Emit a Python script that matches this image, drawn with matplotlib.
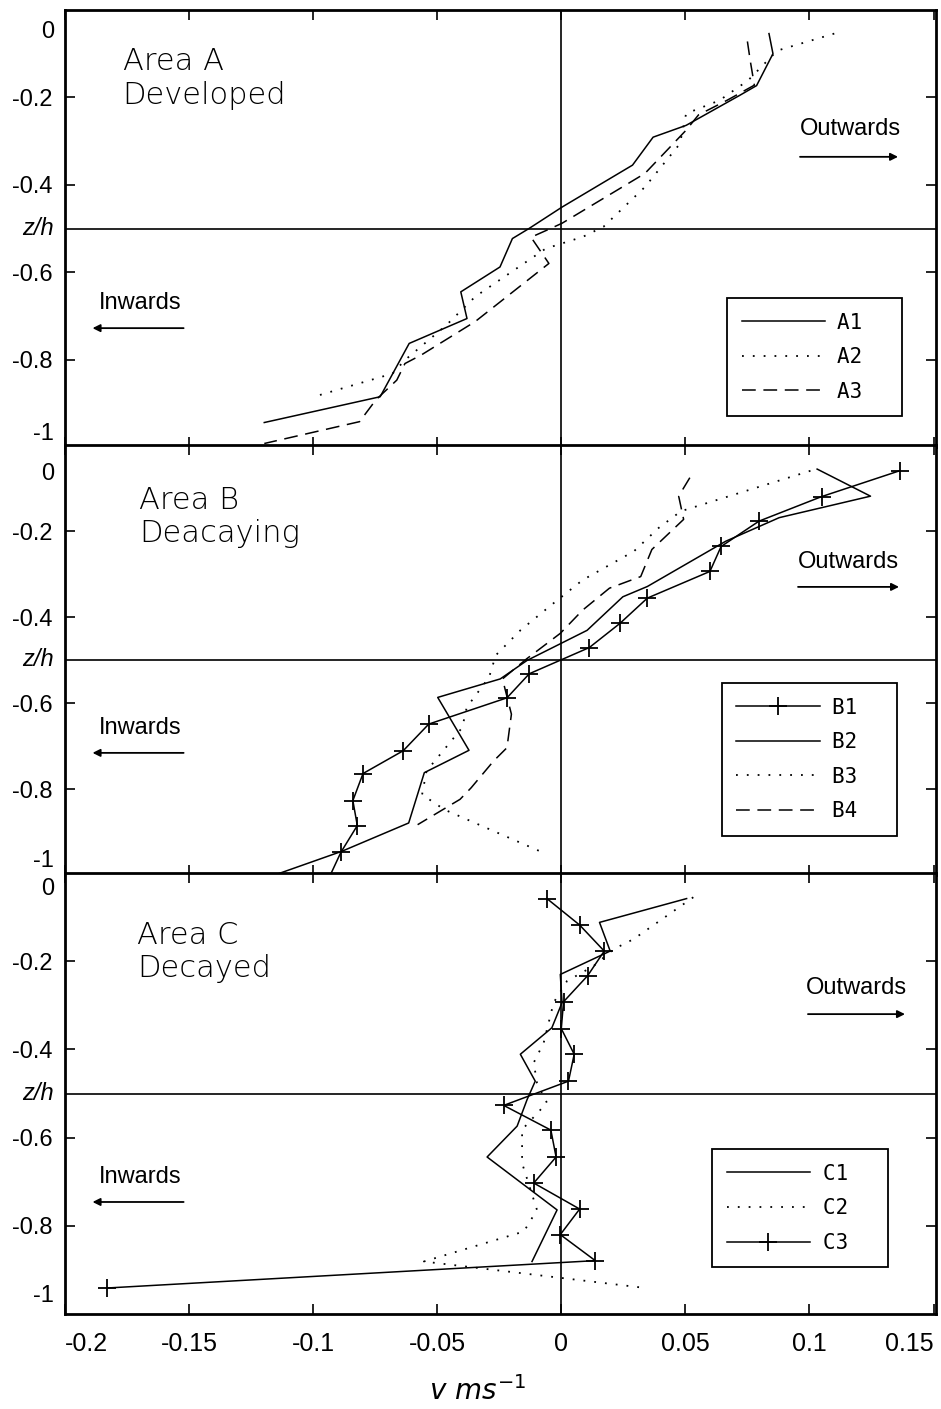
import numpy as np
import matplotlib
matplotlib.use('Agg')
import matplotlib.pyplot as plt

# ---- data: velocity v (m/s) against relative depth z/h ----
a1_z = [-0.054, -0.100, -0.173, -0.195, -0.264, -0.291, -0.355, -0.451, -0.500, -0.523,
        -0.588, -0.645, -0.706, -0.763, -0.885, -0.944]
a1_v = [0.0837, 0.0853, 0.0787, 0.0720, 0.0503, 0.0370, 0.0287, 0.0003, -0.0130, -0.0197,
        -0.0247, -0.0405, -0.0380, -0.0613, -0.0730, -0.1197]
a2_z = [-0.054, -0.093, -0.161, -0.207, -0.237, -0.306, -0.405, -0.496, -0.519, -0.546,
        -0.656, -0.721, -0.801, -0.832, -0.885]
a2_v = [0.1100, 0.0870, 0.0753, 0.0637, 0.0503, 0.0478, 0.0337, 0.0170, 0.0087, -0.0063,
        -0.0347, -0.0463, -0.0630, -0.0680, -0.0997]
a3_z = [-0.072, -0.118, -0.172, -0.206, -0.240, -0.275, -0.374, -0.488, -0.503, -0.520,
        -0.580, -0.713, -0.789, -0.809, -0.847, -0.892, -0.942, -0.992]
a3_v = [0.0750, 0.0762, 0.0778, 0.0670, 0.0553, 0.0503, 0.0337, 0.0003, -0.0055, -0.0122,
        -0.0050, -0.0347, -0.0563, -0.0630, -0.0663, -0.0747, -0.0813, -0.1197]

b1_z = [-0.060, -0.120, -0.177, -0.236, -0.294, -0.356, -0.415, -0.471, -0.532, -0.588,
        -0.649, -0.711, -0.764, -0.827, -0.885, -0.947, -1.03]
b1_v = [0.1363, 0.1049, 0.0797, 0.0644, 0.0599, 0.0347, 0.0236, 0.0113, -0.0129, -0.0219,
        -0.0534, -0.0637, -0.0799, -0.0840, -0.0822, -0.0888, -0.0955]
b2_z = [-0.056, -0.119, -0.169, -0.224, -0.329, -0.353, -0.431, -0.501, -0.544, -0.587,
        -0.710, -0.762, -0.879, -0.945, -1.0]
b2_v = [0.1031, 0.1246, 0.0878, 0.0662, 0.0347, 0.0248, 0.0104, -0.0138, -0.0246, -0.0498,
        -0.0372, -0.0552, -0.0615, -0.0885, -0.1155]
b3_z = [-0.060, -0.154, -0.193, -0.247, -0.314, -0.372, -0.431, -0.489, -0.540, -0.610,
        -0.657, -0.758, -0.813, -0.848, -0.945]
b3_v = [0.1004, 0.0482, 0.0392, 0.0293, 0.0086, -0.0040, -0.0165, -0.0264, -0.0291, -0.0381,
        -0.0399, -0.0543, -0.0561, -0.0471, -0.0085]
b4_z = [-0.076, -0.119, -0.173, -0.243, -0.306, -0.333, -0.384, -0.438, -0.497, -0.544,
        -0.626, -0.704, -0.735, -0.797, -0.824, -0.883]
b4_v = [0.0518, 0.0473, 0.0493, 0.0365, 0.0320, 0.0194, 0.0086, -0.0004, -0.0139, -0.0237,
        -0.0201, -0.0219, -0.0273, -0.0363, -0.0408, -0.0579]

c1_z = [-0.058, -0.112, -0.177, -0.230, -0.294, -0.351, -0.411, -0.472, -0.514, -0.574,
        -0.644, -0.764, -0.881]
c1_v = [0.0505, 0.0154, 0.0197, -0.0004, 0.0003, -0.0038, -0.0165, -0.0105, -0.0138, -0.0178,
        -0.0299, -0.0017, -0.0118]
c2_z = [-0.055, -0.150, -0.173, -0.211, -0.245, -0.294, -0.385, -0.430, -0.476, -0.521,
        -0.582, -0.658, -0.764, -0.813, -0.881, -0.940]
c2_v = [0.0532, 0.0291, 0.0210, 0.0130, 0.0023, -0.0031, -0.0071, -0.0111, -0.0098, -0.0058,
        -0.0158, -0.0158, -0.0098, -0.0151, -0.0554, 0.0324]
c3_z = [-0.058, -0.118, -0.177, -0.233, -0.292, -0.353, -0.411, -0.472, -0.527, -0.583,
        -0.644, -0.703, -0.762, -0.820, -0.879, -0.941]
c3_v = [-0.0058, 0.0074, 0.0173, 0.0106, 0.0009, 0.0000, 0.0052, 0.0029, -0.0232, -0.0042,
        -0.0021, -0.0111, 0.0074, -0.0004, 0.0137, -0.1829]

x_ticks = [-0.2, -0.15, -0.1, -0.05, 0, 0.05, 0.1, 0.15]
x_tick_labels = ['-0.2', '-0.15', '-0.1', '-0.05', '0', '0.05', '0.1', '0.15']
y_ticks = [-0.2, -0.4, -0.6, -0.8]
y_tick_labels = ['-0.2', '-0.4', '-0.6', '-0.8']

SANS = ['Liberation Sans', 'DejaVu Sans']
MONO = ['DejaVu Sans Mono']

solid = dict(color='k', lw=1.1, ls='-')
dotted = dict(color='k', lw=1.3, ls=(0, (1, 5)))
dashed = dict(color='k', lw=1.1, ls=(0, (9, 5)))
plus = dict(color='k', lw=1.1, ls='-', marker='+', ms=13, mew=1.3)

fig = plt.figure(figsize=(9.41, 14.09), dpi=100)

W, H = 941.0, 1409.0
left, right = 65, 936


def make_axes(top, bottom):
    return fig.add_axes([left / W, 1 - bottom / H, (right - left) / W, (bottom - top) / H])


def setup(ax, zero_base, one_base, show_x):
    ax.set_xlim(-0.2, 0.151)
    ax.set_ylim(-1, 0)
    ax.set_xticks(x_ticks)
    ax.set_yticks(y_ticks)
    ax.set_yticklabels(y_tick_labels, fontsize=17, family=SANS)
    if show_x:
        ax.set_xticklabels(x_tick_labels, fontsize=18, family=SANS)
        labels = ax.get_xticklabels()
        labels[0].set_ha('left')
        labels[-1].set_ha('right')
    else:
        ax.set_xticklabels([])
    ax.tick_params(direction='in', top=True, right=True, length=7, width=1.2)
    ax.tick_params(axis='y', pad=9)
    ax.tick_params(axis='x', pad=13)
    for s in ax.spines.values():
        s.set_linewidth(2)
    ax.axvline(0, color='k', lw=1.2)
    ax.axhline(-0.5, color='k', lw=1.2)
    tr = ax.get_yaxis_transform()
    ax.text(-0.0125, zero_base, '0', transform=tr, ha='right', va='baseline',
            fontsize=17, family=SANS)
    ax.text(-0.0125, one_base, '-1', transform=tr, ha='right', va='baseline',
            fontsize=17, family=SANS)
    ax.text(-0.0125, -0.5, 'z/h', transform=tr, ha='right', va='center',
            fontsize=17, family=SANS, style='italic')


def directions(ax, out_z, out_arrow_z, out_x, out_a, in_z, in_arrow_z):
    ax.text(out_x, out_z, 'Outwards', ha='center', va='center', fontsize=17, family=SANS)
    ax.annotate('', xy=(out_a[1], out_arrow_z), xytext=(out_a[0], out_arrow_z),
                arrowprops=dict(arrowstyle='-|>', color='k', lw=1.3,
                                mutation_scale=11, shrinkA=0, shrinkB=0))
    ax.text(-0.1696, in_z, 'Inwards', ha='center', va='center', fontsize=17, family=SANS)
    ax.annotate('', xy=(-0.1889, in_arrow_z), xytext=(-0.1522, in_arrow_z),
                arrowprops=dict(arrowstyle='-|>', color='k', lw=1.3,
                                mutation_scale=11, shrinkA=0, shrinkB=0))


def legend(ax, anchor):
    leg = ax.legend(loc='upper left', bbox_to_anchor=anchor, borderaxespad=0,
                    prop={'family': MONO, 'size': 15}, handlelength=4.0,
                    handletextpad=0.6, labelspacing=0.7, borderpad=0.7,
                    fancybox=False, framealpha=1, edgecolor='k')
    leg.get_frame().set_linewidth(1.3)


# ---- Area A ----
ax_a = make_axes(10, 447)
setup(ax_a, -0.064, -0.984, False)
ax_a.plot(a1_v, a1_z, label='A1  ', **solid)
ax_a.plot(a2_v, a2_z, label='A2  ', **dotted)
ax_a.plot(a3_v, a3_z, label='A3  ', **dashed)
ax_a.text(-0.1768, -0.157, 'Area A\nDeveloped', ha='left', va='center',
          fontsize=22, family='DejaVu Sans', fontweight='light', linespacing=1.2)
directions(ax_a, -0.272, -0.336, 0.1167, (0.0962, 0.1357), -0.670, -0.728)
legend(ax_a, (0.760, 0.341))

# ---- Area B ----
ax_b = make_axes(445, 875)
setup(ax_b, -0.081, -0.981, False)
ax_b.plot(b1_v, b1_z, label='B1  ', **plus)
ax_b.plot(b2_v, b2_z, label='B2  ', **solid)
ax_b.plot(b3_v, b3_z, label='B3  ', **dotted)
ax_b.plot(b4_v, b4_z, label='B4  ', **dashed)
ax_b.text(-0.170, -0.167, 'Area B\nDeacaying', ha='left', va='center',
          fontsize=22, family='DejaVu Sans', fontweight='light', linespacing=1.2)
directions(ax_b, -0.272, -0.330, 0.1159, (0.0954, 0.1361), -0.658, -0.716)
legend(ax_b, (0.754, 0.4465))

# ---- Area C ----
ax_c = make_axes(873, 1314)
setup(ax_c, -0.050, -0.973, True)
ax_c.plot(c1_v, c1_z, label='C1  ', **solid)
ax_c.plot(c2_v, c2_z, label='C2  ', **dotted)
ax_c.plot(c3_v, c3_z, label='C3  ', **plus)
ax_c.text(-0.1708, -0.179, 'Area C\nDecayed', ha='left', va='center',
          fontsize=22, family='DejaVu Sans', fontweight='light', linespacing=1.2)
directions(ax_c, -0.261, -0.320, 0.1188, (0.0994, 0.1385), -0.689, -0.746)
legend(ax_c, (0.743, 0.374))

ax_c.set_xlabel(r'$v\ ms^{-1}$', fontsize=20)
ax_c.xaxis.set_label_coords(0.474, -0.14)

fig.savefig('out.png', dpi=100)
